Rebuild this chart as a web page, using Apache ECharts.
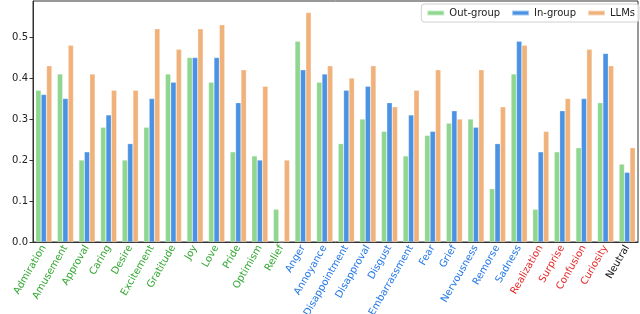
<!DOCTYPE html>
<html>
<head>
<meta charset="utf-8">
<script src="https://cdn.jsdelivr.net/npm/echarts@6/dist/echarts.min.js"></script>
<style>html,body{margin:0;padding:0;background:#fff}#c{width:640px;height:314px}</style>
</head>
<body>
<div id="c"></div>
<script>
const categories = ['Admiration','Amusement','Approval','Caring','Desire','Excitement','Gratitude','Joy','Love','Pride','Optimism','Relief','Anger','Annoyance','Disappointment','Disapproval','Disgust','Embarrassment','Fear','Grief','Nervousness','Remorse','Sadness','Realization','Surprise','Confusion','Curiosity','Neutral'];
const groups = ['pos','pos','pos','pos','pos','pos','pos','pos','pos','pos','pos','pos','neg','neg','neg','neg','neg','neg','neg','neg','neg','neg','neg','amb','amb','amb','amb','neu'];
const outGroup = [0.37,0.41,0.20,0.28,0.20,0.28,0.41,0.45,0.39,0.22,0.21,0.08,0.49,0.39,0.24,0.30,0.27,0.21,0.26,0.29,0.30,0.13,0.41,0.08,0.22,0.23,0.34,0.19];
const inGroup  = [0.36,0.35,0.22,0.31,0.24,0.35,0.39,0.45,0.45,0.34,0.20,0.00,0.42,0.41,0.37,0.38,0.34,0.31,0.27,0.32,0.28,0.24,0.49,0.22,0.32,0.35,0.46,0.17];
const llms     = [0.43,0.48,0.41,0.37,0.37,0.52,0.47,0.52,0.53,0.42,0.38,0.20,0.56,0.43,0.40,0.43,0.33,0.37,0.42,0.30,0.42,0.33,0.48,0.27,0.35,0.47,0.43,0.23];
const yTicks = [0, 0.1, 0.2, 0.3, 0.4, 0.5];
const seriesNames = ['Out-group','In-group','LLMs'];

const groupColor = {pos:'#33a833', neg:'#2478e6', amb:'#e62a2a', neu:'#111111'};
const barColors = ['#8fd68f','#4a92e3','#f0b27a'];
const font = 'DejaVu Sans';

const chart = echarts.init(document.getElementById('c'), null, {renderer:'canvas'});
const mk = (name, data, color) => ({
  name, type:'bar', data, barGap:'0%', barCategoryGap:'25%',
  itemStyle:{color, borderColor:'rgba(255,255,255,0.5)', borderWidth:0.5},
  emphasis:{disabled:true}
});
chart.setOption({
  animation:false,
  grid:{left:33, right:2, top:1, bottom:72, outerBoundsMode:'none', containLabel:false, show:true, borderColor:'#333', borderWidth:1, backgroundColor:'transparent'},
  legend:{
    data:seriesNames, right:1, top:4, orient:'horizontal',
    itemWidth:17, itemHeight:5, itemGap:11,
    borderColor:'#d0d0d0', borderWidth:1, borderRadius:3, padding:[4,4,4,5],
    backgroundColor:'rgba(255,255,255,0.8)',
    textStyle:{fontFamily:font, fontSize:10, color:'#222'},
    icon:'rect'
  },
  xAxis:{
    type:'category',
    data:categories.map((c,i)=>({value:c, textStyle:{color:groupColor[groups[i]]}})),
    axisLine:{lineStyle:{color:'#333'}},
    axisTick:{alignWithLabel:true, length:3.5, lineStyle:{color:'#333'}},
    axisLabel:{rotate:60, interval:0, fontFamily:font, fontSize:10, margin:4}
  },
  yAxis:{
    type:'value', min:0, max:0.588, interval:0.1,
    name:'F1 Score', nameLocation:'middle', nameGap:24, nameRotate:90,
    nameTextStyle:{fontFamily:font, fontSize:10, color:'#222'},
    splitLine:{show:false},
    axisLine:{show:true, lineStyle:{color:'#333'}},
    axisTick:{show:true, length:3.5, lineStyle:{color:'#333'}, customValues:yTicks},
    axisLabel:{fontFamily:font, fontSize:10, color:'#222', margin:5, customValues:yTicks, formatter:v=>v.toFixed(1)}
  },
  series:[mk(seriesNames[0], outGroup, barColors[0]), mk(seriesNames[1], inGroup, barColors[1]), mk(seriesNames[2], llms, barColors[2])]
});
</script>
</body>
</html>
